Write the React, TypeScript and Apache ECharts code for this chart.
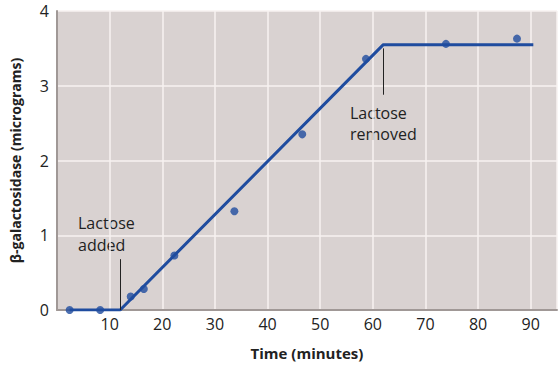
import React, { useEffect, useRef } from "react";
import * as echarts from "echarts";

const measuredTimes = [2.4, 8.2, 14.0, 16.5, 22.3, 33.7, 46.6, 58.7, 73.9, 87.4];
const measuredValues = [0, 0, 0.18, 0.28, 0.73, 1.32, 2.35, 3.36, 3.56, 3.63];
const fitTimes = [2.4, 12.0, 62.0, 90.5];
const fitValues = [0, 0, 3.55, 3.55];
const xTicks = [10, 20, 30, 40, 50, 60, 70, 80, 90];
const yTicks = [0, 1, 2, 3, 4];
const addedMarker = { x: 12, y0: 0, y1: 0.68 };
const removedMarker = { x: 62, y0: 2.88, y1: 3.5 };

const FONT = "'Open Sans', 'Noto Sans', sans-serif";
const BLUE = "#1f4c9f";

export default function App() {
  const ref = useRef<HTMLDivElement>(null);
  useEffect(() => {
    document.body.style.margin = "0";
    if (!ref.current) return;
    const chart = echarts.init(ref.current, undefined, { renderer: "svg" });
    chart.setOption({
      animation: false,
      grid: { left: 50, right: 0, top: 11, bottom: 53, show: true, backgroundColor: "#d9d2d1", borderWidth: 0 },
      xAxis: {
        type: "value",
        min: 0,
        max: 95,
        interval: 10,
        name: "Time (minutes)",
        nameLocation: "middle",
        nameGap: 35,
        nameTextStyle: { fontFamily: FONT, fontSize: 15, fontWeight: "bold", color: "#222" },
        axisLine: { lineStyle: { color: "#a09896", width: 2 } },
        axisTick: { show: false },
        axisLabel: {
          fontFamily: FONT,
          fontSize: 16,
          color: "#222",
          margin: 6,
          showMinLabel: false,
          formatter: (v: number) => (xTicks.includes(v) ? String(v) : ""),
        },
        splitLine: { show: true, lineStyle: { color: "#f7f2f0", width: 1.5 } },
      },
      yAxis: {
        type: "value",
        min: 0,
        max: 4,
        interval: 1,
        name: "β-galactosidase (micrograms)",
        nameLocation: "middle",
        nameGap: 35,
        nameTextStyle: { fontFamily: FONT, fontSize: 14, fontWeight: "bold", color: "#222" },
        axisLine: { show: true, lineStyle: { color: "#a09896", width: 2 } },
        axisTick: { show: false },
        axisLabel: {
          fontFamily: FONT,
          fontSize: 16,
          color: "#222",
          margin: 8,
          formatter: (v: number) => (yTicks.includes(v) ? String(v) : ""),
        },
        splitLine: { show: true, lineStyle: { color: "#f7f2f0", width: 1.5 } },
      },
      series: [
        {
          type: "line",
          data: fitTimes.map((t, i) => [t, fitValues[i]]),
          showSymbol: false,
          symbol: "none",
          lineStyle: { color: BLUE, width: 3 },
          z: 3,
        },
        {
          type: "scatter",
          data: measuredTimes.map((t, i) => [t, measuredValues[i]]),
          symbolSize: 8,
          itemStyle: { color: BLUE },
          z: 4,
        },
        {
          type: "line",
          data: [],
          markLine: {
            silent: true,
            symbol: "none",
            label: { show: false },
            lineStyle: { color: "#222", width: 1, type: "solid" },
            data: [
              [
                { coord: [addedMarker.x, addedMarker.y0] },
                { coord: [addedMarker.x, addedMarker.y1] },
              ],
              [
                { coord: [removedMarker.x, removedMarker.y0] },
                { coord: [removedMarker.x, removedMarker.y1] },
              ],
            ],
          },
        },
      ],
      graphic: [
        {
          type: "text",
          left: 78,
          top: 212,
          style: { text: "Lactose\nadded", fontFamily: FONT, fontSize: 16, lineHeight: 22, fill: "#222" },
        },
        {
          type: "text",
          left: 350,
          top: 102,
          style: { text: "Lactose\nremoved", fontFamily: FONT, fontSize: 16, lineHeight: 21, fill: "#222" },
        },
      ],
    });
    return () => chart.dispose();
  }, []);
  return <div ref={ref} style={{ width: 560, height: 365 }} />;
}
